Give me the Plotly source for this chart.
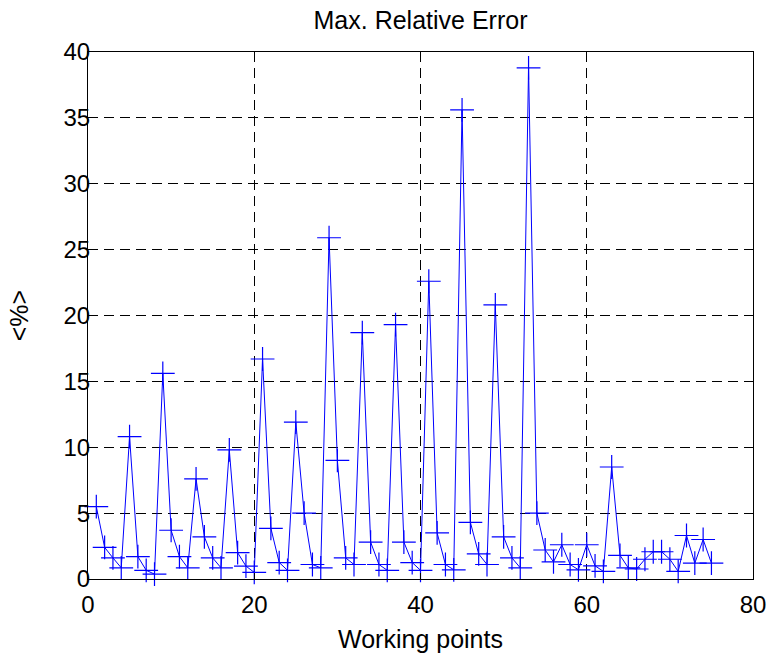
import plotly.graph_objects as go

# Working point index and maximum relative error in percent
working_points = list(range(1, 76))
max_rel_error = [
    5.5, 2.4, 1.6, 0.85, 10.8, 1.7, 0.66, 0.37, 15.6, 3.7,
    1.7, 0.85, 7.6, 3.2, 1.6, 0.85, 9.8, 2.0, 0.98, 0.5,
    16.7, 3.85, 1.25, 0.66, 11.9, 5.0, 1.1, 0.85, 25.9, 9.0,
    1.6, 1.1, 18.7, 2.8, 1.1, 0.66, 19.3, 2.8, 1.25, 0.66,
    22.6, 3.5, 1.1, 0.7, 35.6, 4.3, 1.9, 1.1, 20.8, 3.2,
    1.6, 0.85, 38.8, 5.0, 2.2, 1.3, 2.6, 1.1, 0.7, 2.6,
    1.0, 0.58, 8.5, 1.8, 0.84, 0.76, 1.5, 2.07, 2.07, 1.5,
    0.58, 3.3, 1.2, 3.0, 1.2,
]

x_ticks = [0, 20, 40, 60, 80]
y_ticks = [0, 5, 10, 15, 20, 25, 30, 35, 40]

FONT = "Liberation Sans, Arial, sans-serif"

fig = go.Figure(
    go.Scatter(
        x=working_points,
        y=max_rel_error,
        mode="lines+markers",
        line=dict(color="#0000ff", width=1),
        marker=dict(symbol="cross-thin-open", size=17,
                    line=dict(color="#0000ff", width=1.2)),
        cliponaxis=False,
        showlegend=False,
    )
)

axis_common = dict(
    showline=True, linecolor="black", linewidth=1, mirror="ticks",
    ticks="inside", ticklen=6, tickcolor="black",
    showgrid=True, gridcolor="black", griddash="10px,6px", gridwidth=1,
    zeroline=False, automargin=False,
    tickfont=dict(family=FONT, size=24, color="black"),
    title_font=dict(family=FONT, size=25, color="black"),
)

fig.update_xaxes(range=[0, 80], tickvals=x_ticks, title_text="Working points",
                 title_standoff=13, ticklabelstandoff=4, **axis_common)
fig.update_yaxes(range=[0, 40], tickvals=y_ticks, title_text="&lt;%&gt;",
                 title_standoff=27, ticklabelstandoff=-8, **axis_common)

fig.update_layout(
    width=773, height=655,
    margin=dict(l=88, r=20, t=52, b=76),
    paper_bgcolor="white", plot_bgcolor="white",
    title=dict(text="Max. Relative Error", x=0.544, xanchor="center",
               y=0.969, yanchor="middle",
               font=dict(family=FONT, size=25, color="black")),
)

fig.write_html("out.html")
